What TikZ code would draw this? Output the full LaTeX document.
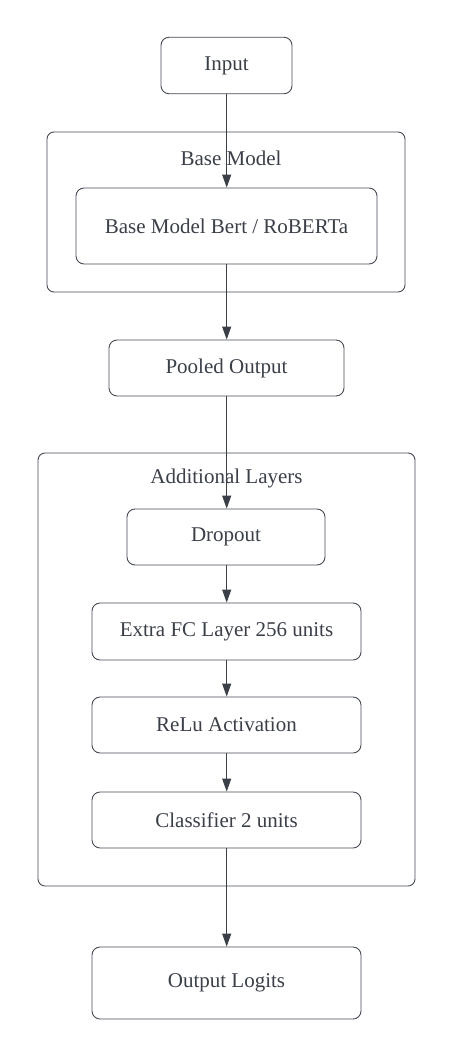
\documentclass[tikz,border=0pt]{standalone}
\usepackage{fontspec}
\setmainfont{Liberation Serif}
\usetikzlibrary{arrows.meta}
\definecolor{ink}{RGB}{58,63,72}
\definecolor{edge}{RGB}{70,75,84}
\tikzset{
  box/.style={draw=edge, line width=0.9pt, rounded corners=8pt, fill=white, inner sep=0pt,
    font=\fontsize{21}{25}\selectfont, text=ink},
  container/.style={draw=edge, line width=0.9pt, rounded corners=7pt, inner sep=0pt},
  grouplabel/.style={font=\fontsize{21}{25}\selectfont, text=ink, inner sep=0pt},
  conn/.style={draw=ink, line width=1pt, -{Triangle[length=13pt,width=9pt]}}
}
\begin{document}
\begin{tikzpicture}[x=1pt,y=1pt]
\useasboundingbox[fill=white] (0,0) rectangle (454,-1057);
% containers
\node[container, minimum width=358pt, minimum height=160pt] (basec) at (226,-212) {};
\node[grouplabel] (basel) at (231,-158) {Base Model};
\node[container, minimum width=377pt, minimum height=433pt] (addc) at (226.5,-669.5) {};
\node[grouplabel] (addl) at (226.5,-478) {Additional Layers};
% boxes
\node[box, minimum width=131pt, minimum height=56.5pt] (input) at (226.5,-65.5) {Input};
\node[box, minimum width=301pt, minimum height=76pt] (bert) at (226.5,-226) {Base Model Bert / RoBERTa};
\node[box, minimum width=235pt, minimum height=56pt] (pooled) at (226.5,-368) {Pooled Output};
\node[box, minimum width=198pt, minimum height=56pt] (drop) at (226,-537) {Dropout};
\node[box, minimum width=269pt, minimum height=57pt] (fc) at (226.5,-631.5) {Extra FC Layer 256 units};
\node[box, minimum width=269pt, minimum height=56pt] (relu) at (226.5,-725) {ReLu Activation};
\node[box, minimum width=269pt, minimum height=56pt] (cls) at (226.5,-820) {Classifier 2 units};
\node[box, minimum width=269pt, minimum height=72pt] (out) at (226.5,-983) {Output Logits};
% connectors
\draw[conn] (input.south -| 226.7,0) -- (bert.north -| 226.7,0);
\draw[conn] (bert.south -| 226.7,0) -- (pooled.north -| 226.7,0);
\draw[conn] (pooled.south -| 226.7,0) -- (drop.north -| 226.7,0);
\draw[conn] (drop.south -| 226.7,0) -- (fc.north -| 226.7,0);
\draw[conn] (fc.south -| 226.7,0) -- (relu.north -| 226.7,0);
\draw[conn] (relu.south -| 226.7,0) -- (cls.north -| 226.7,0);
\draw[conn] (cls.south -| 226.7,0) -- (out.north -| 226.7,0);
\end{tikzpicture}
\end{document}
